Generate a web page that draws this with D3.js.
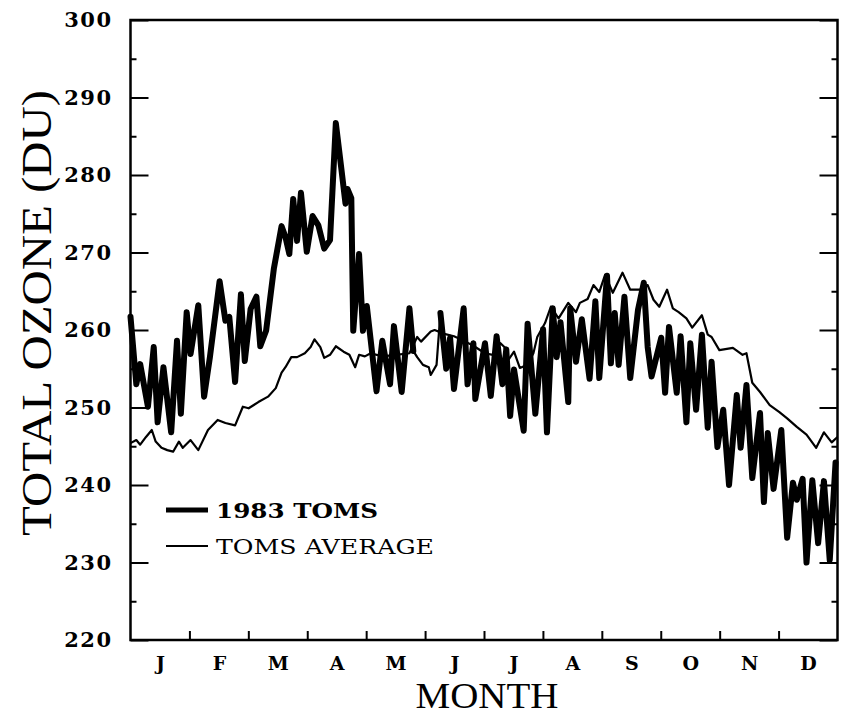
<!DOCTYPE html>
<html>
<head>
<meta charset="utf-8">
<script src="https://cdn.jsdelivr.net/npm/d3@7"></script>
<style>
  html, body { margin: 0; padding: 0; background: #fff; }
  svg { display: block; }
</style>
</head>
<body>
<svg id="chart" width="845" height="716"></svg>
<script>
// ---------------- data ----------------
const monthLabels = ["J","F","M","A","M","J","J","A","S","O","N","D"];
const yMajorTicks = [220, 230, 240, 250, 260, 270, 280, 290, 300];
const yMinorTicks = [225, 235, 245, 255, 265, 275, 285, 295];

// 1983 TOMS daily total ozone (day of year, DU)
const toms1983Days = [
  0, 3, 5, 9, 12, 14, 17, 21, 24, 26, 29, 31, 35, 38, 41, 46, 49, 51, 54, 57,
  59, 62, 65, 67, 70, 74, 78, 80, 82, 84, 86, 88, 91, 94, 97, 100, 103, 106, 109, 111,
  112, 114, 115, 118, 120, 122, 127, 130, 134, 136, 140, 144, 146,
  148, 151, 154, 155, 158,
  160, 163, 165, 167, 172, 174, 177, 178, 183, 186, 189, 192, 194, 196, 198, 203,
  205, 209, 213, 215, 218, 220, 222, 226, 227, 230, 233, 237, 240, 242, 246, 248,
  250, 252, 255, 258, 262, 265, 267, 269, 274, 276, 278, 282, 284, 287, 289, 292,
  295, 298, 300, 303, 306, 309, 313, 315, 318, 321, 325, 327, 329, 332, 336, 339,
  342, 344, 347, 349, 352, 355, 358, 361, 364
];
const toms1983Values = [
  261.7, 253.0, 255.6, 250.1, 257.8, 248.1, 255.2, 246.8, 258.6, 249.2, 262.3, 256.9, 263.2, 251.4, 256.5, 266.3, 261.2, 261.7, 253.3, 264.6,
  256.0, 262.7, 264.3, 257.9, 259.9, 267.9, 273.4, 272.0, 269.8, 276.9, 271.5, 277.7, 270.1, 274.7, 273.5, 270.5, 271.6, 286.7, 280.5, 276.3,
  278.2, 277.0, 259.9, 269.8, 259.9, 263.1, 252.1, 258.6, 253.0, 260.5, 252.0, 262.8, 257.3,
  256.5, 255.5, 255.2, 254.2, 255.5,
  262.2, 255.0, 259.0, 252.4, 262.8, 253.0, 258.3, 251.1, 258.3, 251.5, 259.2, 253.0, 257.5, 248.9, 254.9, 247.0,
  260.8, 249.2, 260.1, 246.8, 262.8, 256.5, 261.0, 250.7, 262.8, 255.9, 261.4, 253.7, 263.7, 253.8, 267.0, 255.7,
  262.2, 255.5, 264.3, 253.8, 262.6, 266.1, 257.8, 254.0, 259.0, 251.9, 260.4, 251.9, 259.2, 248.1, 258.3, 249.7,
  259.4, 247.4, 255.9, 244.9, 249.7, 240.0, 251.6, 244.8, 252.9, 240.9, 249.3, 237.8, 246.7, 239.5, 247.1, 233.2,
  240.3, 238.1, 240.8, 230.0, 240.6, 232.5, 240.5, 230.3, 242.9
];
// days with no 1983 measurement (drawn as thin connecting line)
const gapStartDay = 146;
const gapEndDay = 160;

// TOMS multi-year average (day of year, DU)
const avgDays = [
  0, 3, 5, 8, 11, 13, 16, 19, 22, 25, 27, 31, 35, 40, 45, 49, 54, 58, 61, 66,
  71, 75, 78, 80, 83, 86, 90, 93, 95, 98, 100, 103, 106, 110, 113, 116, 118, 121, 124, 130,
  137, 144, 148, 150, 155, 157, 162, 167, 173, 178, 183, 187, 191, 193, 195, 198, 201, 205, 208, 210,
  214, 217, 221, 226, 230, 232, 236, 239, 242, 245, 249, 254, 258, 263, 267, 270, 273, 277, 280, 283,
  287, 290, 295, 298, 300, 304, 311, 316, 318, 321, 325, 330, 335, 339, 344, 349, 354, 358, 362, 365
];
const avgValues = [
  245.4, 245.8, 245.2, 246.2, 247.1, 245.6, 244.8, 244.5, 244.3, 245.6, 244.8, 245.8, 244.5, 247.1, 248.4, 248.0, 247.7, 250.1, 249.9, 250.7,
  251.4, 252.5, 254.5, 255.2, 256.5, 256.5, 257.0, 257.8, 258.8, 257.8, 256.4, 256.8, 257.9, 257.2, 256.8, 255.2, 256.8, 256.6, 257.0, 256.6,
  256.8, 257.0, 259.1, 258.5, 259.8, 260.0, 259.5, 259.2, 258.5, 257.8, 257.0, 256.8, 258.3, 257.8, 256.1, 257.2, 255.1, 255.5, 257.0, 259.1,
  260.9, 263.0, 261.5, 263.5, 262.3, 263.5, 264.0, 265.8, 264.9, 267.1, 264.8, 267.4, 265.2, 265.2, 265.8, 263.9, 263.0, 265.2, 262.8, 262.3,
  261.5, 260.3, 261.9, 259.4, 259.1, 257.4, 257.7, 256.8, 257.0, 253.2, 252.0, 250.3, 249.4, 248.6, 247.5, 246.5, 244.8, 246.8, 245.5, 246.2
];

const legendLabels = ["1983 TOMS", "TOMS AVERAGE"];
const yTitle = "TOTAL OZONE (DU)";
const xTitle = "MONTH";

// ---------------- chart ----------------
const svg = d3.select("#chart");
const pLeft = 130.5, pRight = 837.5, pTop = 20, pBottom = 640;

const x = d3.scaleLinear().domain([0, 365]).range([pLeft, pRight]);
const y = d3.scaleLinear().domain([220, 300]).range([pBottom, pTop]);

const monthLen = 365 / 12;
const monthTicks = d3.range(1, 12).map(i => i * monthLen);
const monthMids = d3.range(0, 12).map(i => (i + 0.5) * monthLen);

const tickFont = "'DejaVu Serif', serif";

// left axis: major + minor
const gLeft = svg.append("g").attr("transform", `translate(${pLeft},0)`)
  .call(d3.axisLeft(y).tickValues(yMajorTicks).tickSize(-18).tickPadding(18).tickFormat(d3.format("d")));
svg.append("g").attr("transform", `translate(${pLeft},0)`)
  .call(d3.axisLeft(y).tickValues(yMinorTicks).tickSize(-6).tickFormat(""));
// right axis
svg.append("g").attr("transform", `translate(${pRight},0)`)
  .call(d3.axisRight(y).tickValues(yMajorTicks).tickSize(-18).tickFormat(""));
svg.append("g").attr("transform", `translate(${pRight},0)`)
  .call(d3.axisRight(y).tickValues(yMinorTicks).tickSize(-6).tickFormat(""));
// bottom month ticks
svg.append("g").attr("transform", `translate(0,${pBottom})`)
  .call(d3.axisBottom(x).tickValues(monthTicks).tickSize(-9).tickFormat(""));
// month labels
const gMonths = svg.append("g").attr("class", "months").attr("transform", `translate(0,${pBottom})`)
  .call(d3.axisBottom(x).tickValues(monthMids).tickSize(0).tickPadding(17)
    .tickFormat((d, i) => monthLabels[i]));

svg.selectAll(".domain").remove();
svg.selectAll(".tick line").attr("stroke", "#000").attr("stroke-width", 2);
svg.selectAll(".tick text")
  .attr("fill", "#000")
  .style("font-family", tickFont)
  .style("font-weight", "bold");
gLeft.selectAll(".tick text").style("font-size", "21px").attr("text-anchor", "end")
  .style("letter-spacing", "1.5px");
gMonths.selectAll(".tick text").style("font-size", "19px");

// frame
svg.append("rect")
  .attr("x", pLeft).attr("y", pTop)
  .attr("width", pRight - pLeft).attr("height", pBottom - pTop)
  .attr("fill", "none").attr("stroke", "#000").attr("stroke-width", 2.5);

// data series
const data1983 = toms1983Days.map((d, i) => ({ day: d, v: toms1983Values[i] }));
const dataAvg = avgDays.map((d, i) => ({ day: d, v: avgValues[i] }));

const line = d3.line().x(d => x(d.day)).y(d => y(d.v));

svg.append("path").datum(dataAvg)
  .attr("d", line)
  .attr("fill", "none").attr("stroke", "#000").attr("stroke-width", 2.2)
  .attr("stroke-linejoin", "round");

// thin connection across the gap in the 1983 record
svg.append("path").datum(data1983)
  .attr("d", line)
  .attr("fill", "none").attr("stroke", "#000").attr("stroke-width", 2.2)
  .attr("stroke-linejoin", "round");

const thickLine = d3.line()
  .defined(d => d.day <= gapStartDay || d.day >= gapEndDay)
  .x(d => x(d.day)).y(d => y(d.v));
svg.append("path").datum(data1983)
  .attr("d", thickLine)
  .attr("fill", "none").attr("stroke", "#000").attr("stroke-width", 6)
  .attr("stroke-linejoin", "round").attr("stroke-linecap", "round");

// legend
const legend = svg.append("g").attr("transform", "translate(166,510)");
legend.append("line").attr("x1", 0).attr("x2", 42).attr("y1", 0).attr("y2", 0)
  .attr("stroke", "#000").attr("stroke-width", 5);
legend.append("line").attr("x1", 0).attr("x2", 42).attr("y1", 36).attr("y2", 36)
  .attr("stroke", "#000").attr("stroke-width", 2.2);
legend.append("text").attr("x", 50).attr("y", 8)
  .attr("textLength", 162).attr("lengthAdjust", "spacingAndGlyphs")
  .style("font-family", "'DejaVu Serif', serif").style("font-weight", "bold")
  .style("font-size", "21px").text(legendLabels[0]);
legend.append("text").attr("x", 50).attr("y", 44)
  .attr("textLength", 218).attr("lengthAdjust", "spacingAndGlyphs")
  .style("font-family", "'DejaVu Serif', serif")
  .style("font-size", "21px").text(legendLabels[1]);

// axis titles
svg.append("text")
  .attr("transform", `translate(51,313) rotate(-90)`)
  .attr("text-anchor", "middle")
  .attr("textLength", 446).attr("lengthAdjust", "spacingAndGlyphs")
  .style("font-family", "'Liberation Serif', serif")
  .style("font-size", "42px")
  .text(yTitle);
svg.append("text")
  .attr("x", (pLeft + pRight) / 2 + 3).attr("y", 708)
  .attr("text-anchor", "middle")
  .attr("textLength", 143).attr("lengthAdjust", "spacingAndGlyphs")
  .style("font-family", "'Liberation Serif', serif")
  .style("font-size", "35px")
  .text(xTitle);
</script>
</body>
</html>
